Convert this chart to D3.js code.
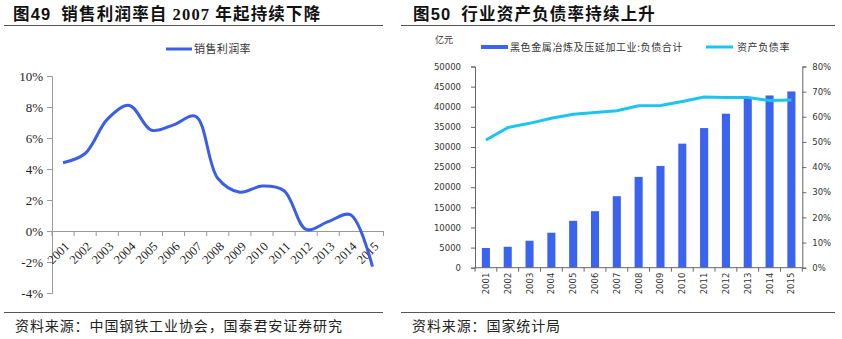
<!DOCTYPE html>
<html><head><meta charset="utf-8">
<script src="https://cdn.jsdelivr.net/npm/d3@7"></script>
<style>body{margin:0;background:#fff}svg{display:block}</style>
</head><body>
<svg id="c" width="842" height="339"></svg>
<script>
// ---- data ----
const years = ["2001","2002","2003","2004","2005","2006","2007","2008","2009","2010","2011","2012","2013","2014","2015"];
const salesMargin = [4.4, 5.0, 7.2, 8.1, 6.5, 6.85, 7.4, 3.4, 2.5, 2.9, 2.6, 0.1, 0.6, 1.05, -2.3];
const leftTicks = [10, 8, 6, 4, 2, 0, -2, -4];
const liabilities = [4900, 5200, 6700, 8700, 11650, 14050, 17770, 22560, 25290, 30830, 34700, 38270, 42400, 42800, 43800];
const debtRatio = [50.8, 55.7, 57.4, 59.4, 61.0, 61.7, 62.4, 64.4, 64.5, 66.1, 67.9, 67.7, 67.7, 66.5, 66.7];
const valueTicks = [0,5000,10000,15000,20000,25000,30000,35000,40000,45000,50000];
const pctTicks = [0,10,20,30,40,50,60,70,80];

const svg = d3.select("#c");
const CJK = "'Noto Sans CJK SC', sans-serif";
const SERIF = "'Liberation Serif', 'DejaVu Serif', serif";
const SANS = "'DejaVu Sans', sans-serif";

// ---- titles ----
function title(x, parts) {
  const t = svg.append("text").attr("x", x).attr("y", 20).attr("font-size", 16.5).attr("font-weight", "bold")
    .attr("letter-spacing", 1.2).attr("fill", "#111").attr("xml:space", "preserve").style("white-space", "pre");
  parts.forEach(p => t.append("tspan").attr("font-family", p[1]).text(p[0]));
}
title(13, [["图", CJK], ["49", "'Liberation Sans', Arial, sans-serif"], ["  销售利润率自 ", CJK], ["2007", SERIF], [" 年起持续下降", CJK]]);
title(413, [["图", CJK], ["50", "'Liberation Sans', Arial, sans-serif"], ["  行业资产负债率持续上升", CJK]]);

svg.append("line").attr("x1", 4).attr("x2", 383).attr("y1", 25.5).attr("y2", 25.5).attr("stroke", "#555").attr("stroke-width", 1.2);
svg.append("line").attr("x1", 401).attr("x2", 835).attr("y1", 25.5).attr("y2", 25.5).attr("stroke", "#555").attr("stroke-width", 1.2);
svg.append("line").attr("x1", 4).attr("x2", 383).attr("y1", 312.5).attr("y2", 312.5).attr("stroke", "#555").attr("stroke-width", 1.2);
svg.append("line").attr("x1", 401).attr("x2", 835).attr("y1", 312.5).attr("y2", 312.5).attr("stroke", "#555").attr("stroke-width", 1.2);

svg.append("text").attr("x", 15).attr("y", 331).attr("font-family", CJK).attr("font-size", 14).attr("letter-spacing", 0.9).attr("fill", "#222").text("资料来源：中国钢铁工业协会，国泰君安证券研究");
svg.append("text").attr("x", 412).attr("y", 331).attr("font-family", CJK).attr("font-size", 14).attr("letter-spacing", 0.9).attr("fill", "#222").text("资料来源：国家统计局");

// ---- left chart ----
const L = {x0: 52, x1: 383.5, yTop: 76, yBot: 293};
const lx = d3.scaleBand().domain(years).range([L.x0, L.x1]);
const ly = d3.scaleLinear().domain([-4, 10]).range([L.yBot, L.yTop]);
const gl = svg.append("g");

const yAxL = gl.append("g").attr("transform", `translate(${L.x0},0)`)
  .call(d3.axisLeft(ly).tickValues(leftTicks).tickSize(5).tickPadding(4).tickFormat(d => d + "%"));
yAxL.selectAll("path,line").attr("stroke", "#999");
yAxL.selectAll("text").attr("font-family", SERIF).attr("font-size", 13).attr("fill", "#222");

const xAxL = gl.append("g").attr("transform", `translate(0,${ly(0)})`)
  .call(d3.axisBottom(lx).tickSize(0).tickFormat(""));
xAxL.select("path").attr("stroke", "#999");
xAxL.selectAll(".tick").remove();
gl.selectAll(".xtickL").data(years.concat(["end"])).enter().append("line")
  .attr("x1", (d, i) => L.x0 + i * lx.step()).attr("x2", (d, i) => L.x0 + i * lx.step())
  .attr("y1", ly(0)).attr("y2", ly(0) + 5).attr("stroke", "#999");
gl.selectAll(".xlabL").data(years).enter().append("text")
  .attr("transform", d => `translate(${lx(d) + lx.bandwidth() / 2 + 4},${ly(0) + 13}) rotate(-45)`)
  .attr("text-anchor", "end").attr("dy", "0.35em")
  .attr("font-family", SERIF).attr("font-size", 12.5).attr("fill", "#222").text(d => d);

const lineL = d3.line().x((d, i) => lx(years[i]) + lx.bandwidth() / 2).y(d => ly(d)).curve(d3.curveCatmullRom.alpha(0.5));
gl.append("path").datum(salesMargin).attr("d", lineL).attr("fill", "none").attr("stroke", "#3b5ee6").attr("stroke-width", 3);

// legend left
gl.append("line").attr("x1", 166).attr("x2", 192).attr("y1", 49).attr("y2", 49).attr("stroke", "#3b5ee6").attr("stroke-width", 3);
gl.append("text").attr("x", 194).attr("y", 53).attr("font-family", CJK).attr("font-size", 11).attr("letter-spacing", 0.4).attr("fill", "#333").text("销售利润率");

// ---- right chart ----
const R = {x0: 475, x1: 802.3, yTop: 66.5, yBot: 267.7};
const rx = d3.scaleBand().domain(years).range([R.x0, R.x1]).paddingInner(0.63).paddingOuter(0.315);
const rxs = d3.scaleBand().domain(years).range([R.x0, R.x1]);
const ry = d3.scaleLinear().domain([0, 50000]).range([R.yBot, R.yTop]);
const ry2 = d3.scaleLinear().domain([0, 80]).range([R.yBot, R.yTop]);
const gr = svg.append("g");

const yAxR1 = gr.append("g").attr("transform", `translate(${R.x0},0)`)
  .call(d3.axisLeft(ry).tickValues(valueTicks).tickSize(4).tickPadding(10).tickFormat(d3.format("d")));
yAxR1.selectAll("path,line").attr("stroke", "#666");
yAxR1.selectAll("text").attr("font-family", SANS).attr("font-size", 8.5).attr("fill", "#333");

const yAxR2 = gr.append("g").attr("transform", `translate(${R.x1},0)`)
  .call(d3.axisRight(ry2).tickValues(pctTicks).tickSize(4).tickPadding(6).tickFormat(d => d + "%"));
yAxR2.selectAll("path,line").attr("stroke", "#666");
yAxR2.selectAll("text").attr("font-family", SANS).attr("font-size", 8.5).attr("fill", "#333");

gr.selectAll(".bar").data(liabilities).enter().append("rect")
  .attr("x", (d, i) => rx(years[i])).attr("width", rx.bandwidth())
  .attr("y", d => ry(d)).attr("height", d => R.yBot - ry(d)).attr("fill", "#3a63f0");

gr.append("line").attr("x1", R.x0).attr("x2", R.x1).attr("y1", R.yBot).attr("y2", R.yBot).attr("stroke", "#666");
gr.selectAll(".xtickR").data(years.concat(["end"])).enter().append("line")
  .attr("x1", (d, i) => R.x0 + i * rxs.step()).attr("x2", (d, i) => R.x0 + i * rxs.step())
  .attr("y1", R.yBot).attr("y2", R.yBot + 4).attr("stroke", "#666");
gr.selectAll(".xlabR").data(years).enter().append("text")
  .attr("transform", d => `translate(${rxs(d) + rxs.bandwidth() / 2},${R.yBot + 5}) rotate(-90)`)
  .attr("text-anchor", "end").attr("dy", "0.35em")
  .attr("font-family", SANS).attr("font-size", 8.5).attr("fill", "#333").text(d => d);

const lineR = d3.line().x((d, i) => rxs(years[i]) + rxs.bandwidth() / 2).y(d => ry2(d));
gr.append("path").datum(debtRatio).attr("d", lineR).attr("fill", "none").attr("stroke", "#1cc4f0").attr("stroke-width", 3);

// legend right
gr.append("text").attr("x", 435).attr("y", 43).attr("font-family", CJK).attr("font-size", 9).attr("fill", "#333").text("亿元");
gr.append("rect").attr("x", 481).attr("y", 45).attr("width", 27).attr("height", 4).attr("fill", "#3a63f0");
gr.append("text").attr("x", 510).attr("y", 51).attr("font-family", CJK).attr("font-size", 10).attr("letter-spacing", 0.6).attr("fill", "#333").text("黑色金属冶炼及压延加工业:负债合计");
gr.append("line").attr("x1", 706).attr("x2", 733).attr("y1", 47).attr("y2", 47).attr("stroke", "#1cc4f0").attr("stroke-width", 3);
gr.append("text").attr("x", 737).attr("y", 51).attr("font-family", CJK).attr("font-size", 10).attr("letter-spacing", 0.6).attr("fill", "#333").text("资产负债率");
</script>
</body></html>
